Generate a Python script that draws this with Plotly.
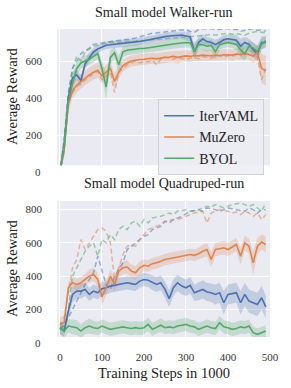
import plotly.graph_objects as go

# ---------------- data ----------------
steps = list(range(0, 500, 10))  # training steps in 1000

# Walker-run (top)
walker_iter = [0, 150, 400, 510, 525, 495, 585, 620, 650, 665, 675, 685, 688, 690, 692, 695, 697, 700, 703, 706,
               710, 715, 720, 725, 728, 732, 735, 737, 738, 740, 735, 730, 650, 700, 720, 705, 700, 690, 700, 715,
               720, 718, 712, 680, 700, 690, 660, 640, 700, 700]
walker_iter_sd = [0, 40, 40, 35, 30, 30, 25, 25, 20, 20, 20, 20, 20, 20, 20, 20, 20, 20, 20, 20,
                  20, 20, 20, 20, 20, 20, 20, 20, 20, 20, 25, 25, 40, 30, 25, 25, 25, 25, 25, 25,
                  25, 25, 30, 40, 30, 30, 40, 40, 35, 30]
walker_mu = [0, 120, 370, 440, 470, 490, 510, 525, 540, 550, 520, 540, 560, 490, 540, 575, 590, 600, 605, 608,
             610, 612, 615, 612, 618, 620, 622, 625, 620, 626, 628, 625, 630, 628, 632, 630, 628, 632, 630, 634,
             635, 632, 638, 636, 640, 635, 625, 648, 560, 548]
walker_mu_sd = [0, 30, 40, 40, 40, 40, 40, 40, 40, 40, 40, 40, 35, 45, 35, 30, 30, 30, 30, 30,
                30, 30, 30, 30, 30, 30, 30, 30, 35, 30, 30, 30, 30, 30, 30, 30, 30, 30, 30, 30,
                30, 30, 30, 30, 30, 30, 35, 40, 80, 80]
walker_byol = [0, 130, 380, 480, 560, 590, 600, 610, 625, 640, 560, 460, 620, 645, 580, 650, 658, 662, 665, 668,
               668, 672, 675, 678, 680, 685, 688, 692, 695, 698, 700, 698, 655, 690, 688, 680, 685, 650, 690, 695,
               700, 695, 690, 660, 640, 680, 670, 650, 690, 710]
walker_byol_sd = [0, 40, 40, 40, 35, 30, 30, 30, 30, 30, 40, 70, 40, 30, 50, 30, 25, 25, 25, 25,
                  25, 25, 25, 25, 25, 25, 25, 25, 25, 25, 25, 25, 40, 30, 30, 30, 30, 40, 30, 25,
                  25, 25, 30, 40, 40, 30, 30, 35, 30, 30]
walker_iter_dash = [0, 180, 420, 560, 600, 640, 655, 670, 690, 695, 700, 702, 705, 708, 710, 712, 715, 720, 725, 732,
                    740, 745, 750, 752, 755, 758, 760, 762, 765, 768, 770, 760, 755, 770, 775, 772, 775, 770, 772, 775,
                    775, 770, 772, 760, 765, 770, 775, 765, 770, 760]
walker_mu_dash = [0, 110, 380, 430, 460, 480, 500, 515, 530, 545, 500, 520, 540, 430, 540, 560, 580, 590, 600, 590,
                  600, 595, 605, 580, 610, 620, 615, 610, 620, 612, 610, 615, 620, 612, 625, 620, 615, 625, 630, 620,
                  630, 625, 635, 630, 640, 635, 630, 620, 500, 560]
walker_byol_dash = [0, 160, 430, 560, 625, 600, 650, 665, 680, 685, 690, 695, 700, 700, 700, 702, 705, 705, 708, 710,
                    710, 712, 715, 715, 718, 720, 722, 725, 725, 728, 730, 732, 735, 735, 738, 740, 742, 740, 745, 748,
                    750, 745, 748, 745, 740, 750, 755, 760, 755, 750]

# Quadruped-run (bottom)
quad_iter = [90, 70, 190, 290, 310, 310, 320, 290, 310, 300, 325, 330, 340, 345, 350, 355, 360, 355, 350, 370,
             380, 375, 360, 350, 360, 320, 265, 330, 360, 340, 330, 345, 300, 310, 320, 305, 300, 290, 300, 240,
             290, 295, 300, 240, 290, 250, 240, 230, 270, 215]
quad_iter_sd = [40, 30, 40, 45, 45, 45, 40, 40, 40, 40, 40, 40, 40, 40, 40, 40, 40, 40, 40, 40,
                40, 40, 45, 45, 45, 50, 50, 50, 50, 50, 50, 50, 50, 55, 55, 55, 55, 60, 60, 70,
                60, 60, 60, 70, 70, 70, 70, 70, 70, 70]
quad_mu = [110, 120, 330, 360, 350, 360, 380, 400, 410, 380, 275, 330, 400, 350, 430, 450, 455, 430, 420, 450,
           465, 460, 475, 480, 490, 500, 505, 510, 515, 520, 525, 530, 525, 535, 550, 560, 500, 560, 565, 570,
           560, 575, 590, 520, 600, 580, 480, 580, 605, 590]
quad_mu_sd = [40, 40, 35, 35, 35, 35, 35, 40, 40, 40, 50, 45, 40, 45, 40, 40, 40, 40, 40, 40,
              35, 35, 35, 35, 35, 35, 35, 35, 35, 35, 35, 35, 35, 35, 40, 40, 45, 40, 40, 40,
              40, 40, 40, 50, 45, 45, 70, 50, 45, 50]
quad_byol = [90, 70, 100, 95, 90, 70, 90, 100, 90, 85, 100, 90, 80, 85, 90, 95, 90, 85, 90, 85,
             90, 110, 80, 95, 105, 90, 95, 90, 100, 105, 110, 100, 95, 80, 90, 100, 90, 85, 120, 95,
             90, 80, 85, 95, 90, 100, 60, 50, 60, 70]
quad_byol_sd = [40, 40, 40, 45, 45, 40, 40, 45, 40, 40, 40, 40, 40, 40, 40, 40, 40, 40, 40, 40,
                40, 40, 40, 40, 40, 40, 40, 40, 40, 40, 40, 40, 40, 40, 40, 40, 40, 40, 40, 40,
                40, 40, 40, 40, 40, 40, 35, 35, 35, 35]
quad_iter_dash = [80, 110, 150, 200, 250, 300, 350, 380, 420, 520, 430, 350, 320, 400, 440, 480, 560, 580, 600, 620,
                  640, 650, 680, 690, 700, 730, 720, 740, 750, 760, 775, 790, 795, 800, 790, 810, 805, 800, 790, 800,
                  810, 805, 800, 795, 790, 810, 800, 780, 800, 800]
quad_mu_dash = [100, 150, 300, 450, 500, 620, 560, 600, 640, 680, 690, 670, 600, 380, 450, 530, 580, 585, 580, 620,
                650, 680, 690, 700, 710, 730, 735, 740, 740, 750, 760, 770, 780, 785, 790, 720, 780, 790, 800, 795,
                790, 780, 785, 770, 790, 780, 760, 780, 740, 770]
quad_byol_dash = [80, 100, 200, 400, 450, 500, 550, 580, 600, 520, 620, 600, 650, 620, 680, 700, 680, 720, 730, 700,
                  740, 720, 750, 755, 760, 770, 780, 770, 790, 795, 800, 790, 795, 800, 810, 820, 815, 830, 820, 810,
                  820, 830, 835, 840, 830, 820, 830, 810, 790, 840]

labels = ["IterVAML", "MuZero", "BYOL"]
colors = [(76, 114, 176), (221, 132, 82), (85, 168, 104)]

walker = [(walker_iter, walker_iter_sd, walker_iter_dash),
          (walker_mu, walker_mu_sd, walker_mu_dash),
          (walker_byol, walker_byol_sd, walker_byol_dash)]
quad = [(quad_iter, quad_iter_sd, quad_iter_dash),
        (quad_mu, quad_mu_sd, quad_mu_dash),
        (quad_byol, quad_byol_sd, quad_byol_dash)]

x_range = [-7, 500]
walker_range = [38, 773]
quad_range = [34, 852]
top_dom = [0.558, 1.0]
bot_dom = [0.0, 0.4416]

FONT = "Liberation Serif"
BG = "#eaeaf2"


def rgba(c, a):
    return "rgba(%d,%d,%d,%s)" % (c[0], c[1], c[2], a)


fig = go.Figure()


def add_panel(series, xa, ya, legend):
    # bands
    for (mean, sd, dash), c in zip(series, colors):
        up = [m + s for m, s in zip(mean, sd)]
        lo = [m - s for m, s in zip(mean, sd)]
        fig.add_trace(go.Scatter(x=steps + steps[::-1], y=up + lo[::-1], fill="toself",
                                 fillcolor=rgba(c, 0.25), line=dict(width=0), mode="lines",
                                 hoverinfo="skip", showlegend=False, xaxis=xa, yaxis=ya))
    # dashed variants
    for (mean, sd, dash), c in zip(series, colors):
        fig.add_trace(go.Scatter(x=steps, y=dash, mode="lines",
                                 line=dict(color=rgba(c, 0.55), width=1.5, dash="5px,3px"),
                                 showlegend=False, xaxis=xa, yaxis=ya))
    # solid means
    for (mean, sd, dash), c, name in zip(series, colors, labels):
        fig.add_trace(go.Scatter(x=steps, y=mean, mode="lines", name=name,
                                 line=dict(color=rgba(c, 1), width=1.6),
                                 showlegend=legend, xaxis=xa, yaxis=ya))


add_panel(walker, "x", "y", True)
add_panel(quad, "x2", "y2", False)

axis_common = dict(showgrid=True, gridcolor="white", gridwidth=1, zeroline=False, showline=False,
                   ticks="", tickfont=dict(family=FONT, size=11, color="#333333"))

fig.update_layout(
    width=291, height=388,
    margin=dict(l=57, r=17, t=29, b=51),
    paper_bgcolor="white", plot_bgcolor=BG,
    font=dict(family=FONT, color="#222222"),
    xaxis=dict(domain=[0, 1], range=x_range, anchor="y", dtick=100, showticklabels=False, **axis_common),
    yaxis=dict(domain=top_dom, range=walker_range, anchor="x", dtick=200, tick0=0,
               ticklabelstandoff=14, **axis_common),
    xaxis2=dict(domain=[0, 1], range=x_range, anchor="y2", dtick=100, tick0=0,
                ticklabelstandoff=12, **axis_common),
    yaxis2=dict(domain=bot_dom, range=quad_range, anchor="x2", dtick=200, tick0=0,
                ticklabelstandoff=14, **axis_common),
    legend=dict(x=0.475, y=0.772, xanchor="left", yanchor="top",
                bgcolor="rgba(236,236,243,0.85)", bordercolor="#cfcfd6", borderwidth=1,
                font=dict(family=FONT, size=14, color="#222222"), itemwidth=30,
                tracegroupgap=0),
)


def zero_pos(dom, rng):
    return dom[0] + (0 - rng[0]) / (rng[1] - rng[0]) * (dom[1] - dom[0])


ann = []
# "0" tick labels that sit just below each panel
for dom, rng in [(top_dom, walker_range), (bot_dom, quad_range)]:
    ann.append(dict(x=0, y=zero_pos(dom, rng), xref="paper", yref="paper", text="0",
                    showarrow=False, xanchor="right", yanchor="middle", xshift=-14,
                    font=dict(family=FONT, size=11, color="#333333")))
# titles
ann.append(dict(x=0.5, y=1, xref="paper", yref="paper", yanchor="middle", yshift=16.5,
                text="Small model Walker-run", showarrow=False, font=dict(family=FONT, size=14)))
ann.append(dict(x=0.5, y=bot_dom[1], xref="paper", yref="paper", yanchor="middle", yshift=17,
                text="Small model Quadruped-run", showarrow=False, font=dict(family=FONT, size=14)))
# axis titles
for dom in [top_dom, bot_dom]:
    ann.append(dict(x=0, y=(dom[0] + dom[1]) / 2, xref="paper", yref="paper", xanchor="center",
                    yanchor="middle", xshift=-45, textangle=-90, text="Average Reward",
                    showarrow=False, font=dict(family=FONT, size=14.5)))
ann.append(dict(x=0.5, y=0, xref="paper", yref="paper", yanchor="middle", yshift=-36,
                text="Training Steps in 1000", showarrow=False, font=dict(family=FONT, size=14.5)))
fig.update_layout(annotations=ann)

# remove the browser's default 8px page margin so the figure fills the window; hide the modebar
fig.write_html("out.html", config={"displayModeBar": False},
               post_script="document.body.style.margin='0px';")
